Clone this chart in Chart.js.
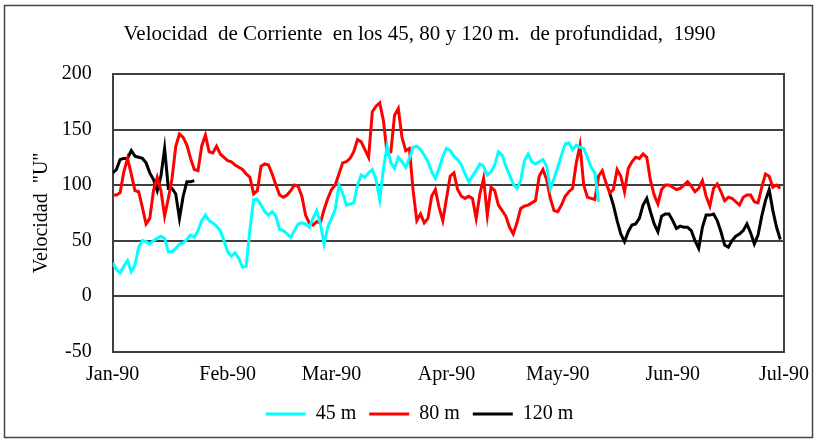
<!DOCTYPE html>
<html>
<head>
<meta charset="utf-8">
<script src="https://cdn.jsdelivr.net/npm/chart.js@4/dist/chart.umd.min.js"></script>
<style>
html,body{margin:0;padding:0;background:#fff;}
#wrap{width:825px;height:440px;position:relative;}
</style>
</head>
<body>
<div id="wrap"><canvas id="c" width="825" height="440"></canvas></div>
<script>
// Month tick labels and their day offsets from 1 Jan 1990
const monthLabels = ['Jan-90','Feb-90','Mar-90','Apr-90','May-90','Jun-90','Jul-90'];
const monthStartDays = [0, 31, 59, 90, 120, 151, 181];

// 45 m — daily values starting 1 Jan 1990
const vel45StartDay = 0;
const vel45 = [30,24,21,27,32,22,28,44,50,49,47,50,52,54,52,40,40,43,47,48,51,55,53,59,68,73,68,66,63,
  59,50,40,36,39,34,26,27,60,87,87,82,76,73,76,72,60,59,56,53,59,65,66,65,62,70,77,65,47,62,70,78,
  100,93,82,83,84,100,109,107,111,114,105,87,115,135,120,115,125,121,116,124,134,135,132,127,121,112,106,115,126,133,
  131,126,123,118,110,103,108,113,119,117,109,112,118,130,127,117,109,101,97,104,122,128,121,119,121,123,117,97,106,116,
  127,137,138,132,136,134,133,125,116,111,85];

// 80 m — daily values starting 1 Jan 1990
const vel80StartDay = 0;
const vel80 = [91,91,93,112,124,110,95,94,80,65,70,95,107,95,72,88,106,135,146,143,136,124,114,113,135,145,130,129,135,128,125,
  122,121,118,116,114,110,107,92,95,117,119,118,110,100,91,89,91,95,100,99,90,73,66,64,67,66,78,88,96,100,
  110,120,121,124,130,141,139,132,125,166,171,174,158,128,130,163,169,143,131,133,95,68,74,66,70,90,96,80,68,88,
  108,111,96,90,88,90,88,70,92,106,73,98,95,82,77,72,62,56,66,79,81,82,84,86,108,114,105,88,77,76,
  82,90,94,97,120,136,100,89,88,87,108,113,102,93,96,114,108,94,115,121,125,124,128,125,104,91,83,96,100,100,
  98,96,97,100,103,99,94,97,104,90,81,97,101,94,86,89,88,85,82,89,91,91,85,84,98,110,108,98,100,97];

// 120 m — two recorded periods
const vel120JanStartDay = 0;
const vel120Jan = [111,114,123,124,124,131,126,125,124,120,111,105,95,108,133,97,97,92,70,90,103,103,104];
const vel120JunStartDay = 134;
const vel120Jun = [93,82,68,56,49,58,64,65,70,82,88,76,65,58,72,74,74,68,61,63,62,62,59,50,43,62,73,73,74,68,
  58,46,44,50,54,56,59,65,57,47,55,72,86,96,77,62,51];

const seriesLabels = ['45 m', '80 m', '120 m'];
const titleText = 'Velocidad  de Corriente  en los 45, 80 y 120 m.  de profundidad,  1990';
const yTitleText = 'Velocidad  "U"';

function toPoints(values, startDay) {
  return values.map((v, i) => ({ x: startDay + i, y: v }));
}
const pts120 = toPoints(vel120Jan, vel120JanStartDay)
  .concat([{ x: vel120JanStartDay + vel120Jan.length, y: null }])
  .concat(toPoints(vel120Jun, vel120JunStartDay));

const FONT = "'Liberation Serif', 'Times New Roman', serif";
Chart.defaults.font.family = FONT;
Chart.defaults.color = '#000';

const framePlugin = {
  id: 'frame',
  beforeDraw(chart) {
    const c = chart.ctx;
    c.save(); c.fillStyle = '#fff'; c.fillRect(0, 0, chart.width, chart.height); c.restore();
  },
  afterDraw(chart) {
    const c = chart.ctx;
    c.save();
    c.strokeStyle = '#444';
    c.lineWidth = 1.5;
    c.strokeRect(4.5, 5.5, 808, 432);
    c.restore();
  }
};

const lineStyle = { borderWidth: 3, pointRadius: 0, pointHoverRadius: 0, tension: 0, spanGaps: false, fill: false };

new Chart(document.getElementById('c'), {
  type: 'line',
  data: {
    datasets: [
      Object.assign({ label: seriesLabels[0], data: toPoints(vel45, vel45StartDay), borderColor: '#00FFFF', backgroundColor: '#00FFFF' }, lineStyle),
      Object.assign({ label: seriesLabels[1], data: toPoints(vel80, vel80StartDay), borderColor: '#FF0000', backgroundColor: '#FF0000' }, lineStyle),
      Object.assign({ label: seriesLabels[2], data: pts120, borderColor: '#000000', backgroundColor: '#000000' }, lineStyle)
    ]
  },
  options: {
    responsive: false,
    animation: false,
    layout: { padding: { left: 14, right: 0, top: 10, bottom: 6 } },
    plugins: {
      title: {
        display: true, text: titleText, color: '#000',
        font: { size: 21, weight: 'normal', family: FONT, lineHeight: 1.2 },
        padding: { top: 12.2, bottom: 26.6 }
      },
      legend: {
        position: 'bottom',
        labels: {
          usePointStyle: true, pointStyle: 'line', pointStyleWidth: 40,
          padding: 13, color: '#000', font: { size: 20, family: FONT }
        }
      },
      tooltip: { enabled: false }
    },
    scales: {
      x: {
        type: 'linear', min: 0, max: 181,
        afterBuildTicks: s => { s.ticks = monthStartDays.map(v => ({ value: v })); },
        ticks: {
          callback: v => monthLabels[monthStartDays.indexOf(v)],
          padding: 11, autoSkip: false, maxRotation: 0, color: '#000',
          font: { size: 20, family: FONT }
        },
        grid: { display: false, drawTicks: false },
        border: { display: true, color: '#404040', width: 2 },
        afterFit: s => { s.height = 39.3; }
      },
      y: {
        type: 'linear', min: -50, max: 200,
        ticks: { stepSize: 50, padding: 21, color: '#000', font: { size: 20, family: FONT } },
        grid: { color: '#404040', lineWidth: 2, drawTicks: false },
        border: { display: true, color: '#404040', width: 2 },
        title: { display: true, text: yTitleText, color: '#000', font: { size: 20, family: FONT }, padding: { top: 16, bottom: 0 } },
        afterFit: s => { s.width = 98.7; }
      },
      y2: {
        type: 'linear', position: 'right', display: true,
        ticks: { display: false },
        grid: { display: false, drawTicks: false },
        border: { display: true, color: '#404040', width: 2 },
        afterFit: s => { s.width = 41; }
      }
    }
  },
  plugins: [framePlugin]
});
</script>
</body>
</html>
